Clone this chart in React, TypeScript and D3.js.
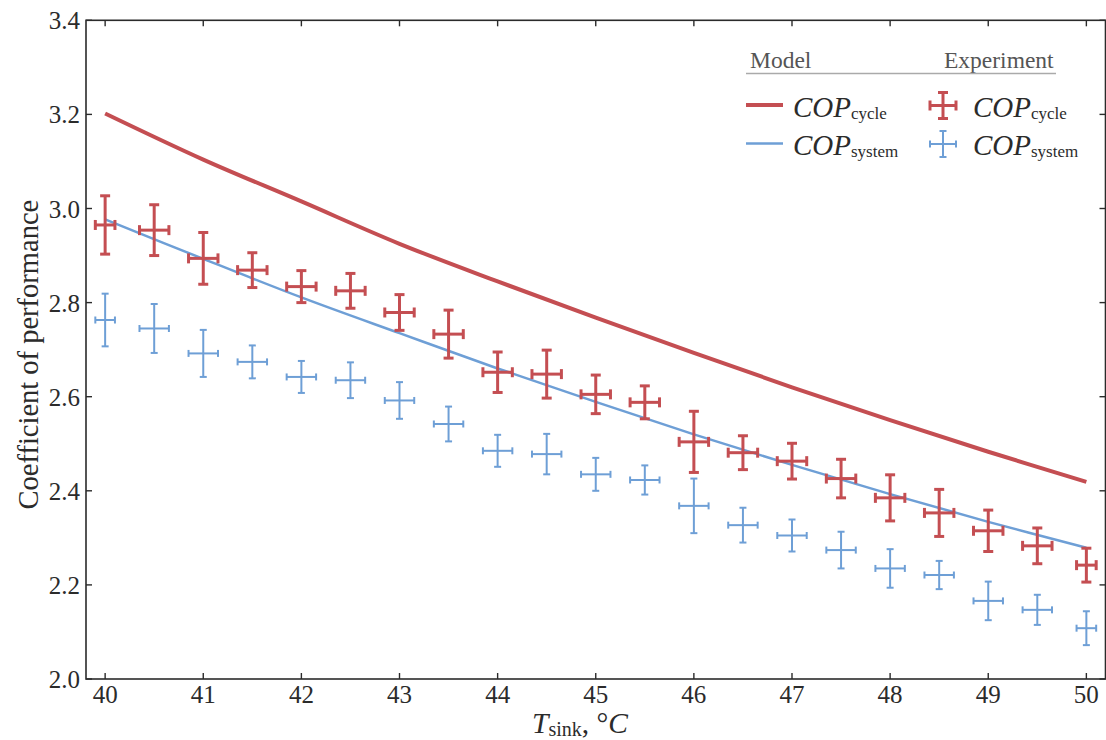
import React from "react";
import * as d3 from "d3";

// Model curves (sampled at 1 °C)
const modelT = [40, 41, 42, 43, 44, 45, 46, 47, 48, 49, 50];
const modelCycle = [3.202, 3.104, 3.015, 2.925, 2.845, 2.768, 2.693, 2.62, 2.55, 2.483, 2.419];
const modelSystem = [2.977, 2.893, 2.811, 2.735, 2.66, 2.589, 2.52, 2.455, 2.393, 2.334, 2.279];

// Experiment points
const expT = [40, 40.5, 41, 41.5, 42, 42.5, 43, 43.5, 44, 44.5, 45, 45.5, 46, 46.5, 47, 47.5, 48, 48.5, 49, 49.5, 50];
const expTErr = [0.1, 0.15, 0.15, 0.15, 0.15, 0.15, 0.15, 0.15, 0.15, 0.15, 0.15, 0.15, 0.15, 0.15, 0.15, 0.15, 0.15, 0.15, 0.15, 0.15, 0.1];
const expCycle = [2.965, 2.954, 2.894, 2.869, 2.834, 2.825, 2.779, 2.733, 2.652, 2.648, 2.605, 2.588, 2.504, 2.481, 2.463, 2.426, 2.385, 2.353, 2.315, 2.283, 2.242];
const expCycleErr = [0.062, 0.054, 0.055, 0.037, 0.034, 0.037, 0.038, 0.051, 0.043, 0.051, 0.041, 0.035, 0.065, 0.036, 0.038, 0.041, 0.049, 0.05, 0.044, 0.038, 0.036];
const expSystem = [2.763, 2.745, 2.692, 2.674, 2.642, 2.635, 2.592, 2.542, 2.485, 2.478, 2.435, 2.423, 2.368, 2.327, 2.305, 2.274, 2.235, 2.221, 2.166, 2.147, 2.108];
const expSystemErr = [0.056, 0.052, 0.05, 0.035, 0.034, 0.038, 0.039, 0.037, 0.034, 0.043, 0.035, 0.031, 0.058, 0.037, 0.034, 0.039, 0.041, 0.03, 0.041, 0.032, 0.036];

const xTicks = [40, 41, 42, 43, 44, 45, 46, 47, 48, 49, 50];
const yTicks = [2.0, 2.2, 2.4, 2.6, 2.8, 3.0, 3.2, 3.4];

const RED = "#c44e52";
const BLUE = "#6e9fd6";
const FONT = "Liberation Serif, Times New Roman, Times, DejaVu Serif, serif";
const INK = "#2b2b2b";

const W = 1106, H = 740;
const L = 86, R = 1105.5, T = 20.3, B = 679;

export default function App() {
  const x = d3.scaleLinear().domain([39.805, 50.195]).range([L, R]);
  const y = d3.scaleLinear().domain([2.0, 3.4]).range([B, T]);

  const line = d3
    .line<[number, number]>()
    .x((d) => x(d[0]))
    .y((d) => y(d[1]))
    .curve(d3.curveCatmullRom);

  const cyclePath = line(modelT.map((t, i) => [t, modelCycle[i]]) as [number, number][]) || "";
  const systemPath = line(modelT.map((t, i) => [t, modelSystem[i]]) as [number, number][]) || "";

  const errBars = (vals: number[], errs: number[], color: string, sw: number, cap: number, key: string) =>
    expT.map((t, i) => {
      const cx = x(t), cy = y(vals[i]);
      const y1 = y(vals[i] + errs[i]), y2 = y(vals[i] - errs[i]);
      const x1 = x(t - expTErr[i]), x2 = x(t + expTErr[i]);
      return (
        <g key={key + i} stroke={color} strokeWidth={sw} fill="none">
          <line x1={cx} x2={cx} y1={y1} y2={y2} />
          <line x1={cx - cap} x2={cx + cap} y1={y1} y2={y1} />
          <line x1={cx - cap} x2={cx + cap} y1={y2} y2={y2} />
          <line x1={x1} x2={x2} y1={cy} y2={cy} />
          <line x1={x1} x2={x1} y1={cy - cap} y2={cy + cap} />
          <line x1={x2} x2={x2} y1={cy - cap} y2={cy + cap} />
        </g>
      );
    });

  const legendCross = (cx: number, cy: number, color: string, sw: number, cap: number) => (
    <g stroke={color} strokeWidth={sw}>
      <line x1={cx} x2={cx} y1={cy - 13} y2={cy + 13} />
      <line x1={cx - cap} x2={cx + cap} y1={cy - 13} y2={cy - 13} />
      <line x1={cx - cap} x2={cx + cap} y1={cy + 13} y2={cy + 13} />
      <line x1={cx - 13} x2={cx + 13} y1={cy} y2={cy} />
      <line x1={cx - 13} x2={cx - 13} y1={cy - cap} y2={cy + cap} />
      <line x1={cx + 13} x2={cx + 13} y1={cy - cap} y2={cy + cap} />
    </g>
  );

  const copLabel = (lx: number, by: number, sub: string) => (
    <text x={lx} y={by} style={{ fontFamily: FONT }} fill={INK}>
      <tspan fontStyle="italic" fontSize={29}>COP</tspan>
      <tspan fontSize={17} dy={2}>{sub}</tspan>
    </text>
  );

  return (
    <svg width={W} height={H} style={{ position: "absolute", left: 0, top: 0, background: "#fff", fontFamily: FONT }}>
      <rect x={0} y={0} width={W} height={H} fill="#fff" />

      {/* model lines */}
      <path d={cyclePath} fill="none" stroke={RED} strokeWidth={4} />
      <path d={systemPath} fill="none" stroke={BLUE} strokeWidth={2.5} />

      {/* experiment error bars */}
      {errBars(expSystem, expSystemErr, BLUE, 2, 3.5, "s")}
      {errBars(expCycle, expCycleErr, RED, 3, 5, "c")}

      {/* axes frame */}
      <rect x={L} y={T} width={R - L} height={B - T} fill="none" stroke={INK} strokeWidth={1.6} />

      {/* x ticks */}
      {xTicks.map((t) => (
        <g key={"xt" + t}>
          <line x1={x(t)} x2={x(t)} y1={B} y2={B - 6} stroke={INK} strokeWidth={1.4} />
          <line x1={x(t)} x2={x(t)} y1={T} y2={T + 6} stroke={INK} strokeWidth={1.4} />
          <text x={x(t)} y={703} textAnchor="middle" style={{ fontFamily: FONT }} fontSize={25} fill={INK}>
            {t}
          </text>
        </g>
      ))}

      {/* y ticks */}
      {yTicks.map((v) => (
        <g key={"yt" + v}>
          <line x1={L} x2={L + 6} y1={y(v)} y2={y(v)} stroke={INK} strokeWidth={1.4} />
          <line x1={R} x2={R - 6} y1={y(v)} y2={y(v)} stroke={INK} strokeWidth={1.4} />
          <text x={80} y={y(v) + 9} textAnchor="end" style={{ fontFamily: FONT }} fontSize={25} fill={INK}>
            {v.toFixed(1)}
          </text>
        </g>
      ))}

      {/* axis labels */}
      <text
        transform={`translate(38, ${(T + B) / 2 + 5}) rotate(-90)`}
        textAnchor="middle"
        style={{ fontFamily: FONT }}
        fontSize={28.5}
        fill={INK}
      >
        Coefficient of performance
      </text>
      <text x={580} y={733} textAnchor="middle" style={{ fontFamily: FONT }} fill={INK}>
        <tspan fontStyle="italic" fontSize={29.5}>T</tspan>
        <tspan fontSize={20} dy={3}>sink</tspan>
        <tspan fontSize={29.5} dy={-3}>, °</tspan>
        <tspan fontSize={29.5} fontStyle="italic">C</tspan>
      </text>

      {/* legend */}
      <text x={750} y={68} style={{ fontFamily: FONT }} fontSize={23.5} fill="#555">Model</text>
      <text x={944} y={68} style={{ fontFamily: FONT }} fontSize={23.5} fill="#555">Experiment</text>
      <line x1={746} x2={1056} y1={73.5} y2={73.5} stroke="#aaa" strokeWidth={1.5} />

      <line x1={746} x2={783} y1={105} y2={105} stroke={RED} strokeWidth={4} />
      {copLabel(793, 117, "cycle")}
      <line x1={746} x2={783} y1={143.5} y2={143.5} stroke={BLUE} strokeWidth={2.5} />
      {copLabel(793, 155, "system")}

      {legendCross(943, 105.5, RED, 3, 5)}
      {copLabel(973, 117, "cycle")}
      {legendCross(943, 144, BLUE, 2, 3.5)}
      {copLabel(973, 155, "system")}
    </svg>
  );
}
